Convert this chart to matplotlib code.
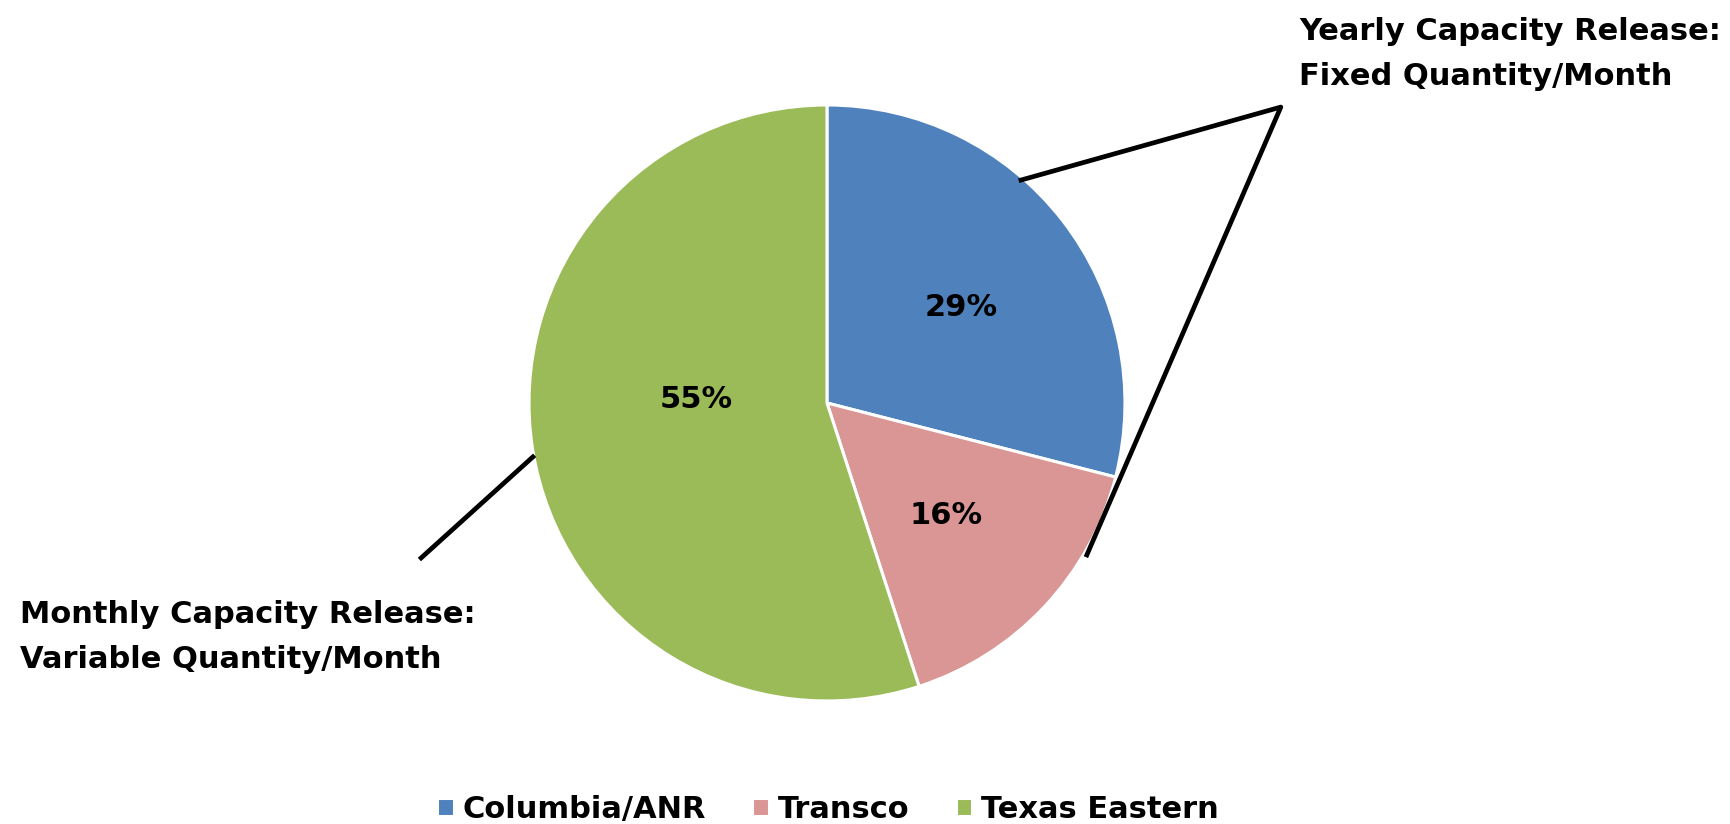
import matplotlib.pyplot as plt
from matplotlib.lines import Line2D

labels = ['Columbia/ANR', 'Transco', 'Texas Eastern']
shares = [29, 16, 55]
colors = ['#4F81BD', '#D99694', '#9BBB59']

yearly_note = 'Yearly Capacity Release:\nFixed Quantity/Month'
monthly_note = 'Monthly Capacity Release:\nVariable Quantity/Month'

plt.rcParams['font.family'] = ['DejaVu Sans']
plt.rcParams['font.weight'] = 'bold'
fs = 22

fig = plt.figure(figsize=(17.31, 8.24), dpi=100)
# pie axes placed so the circle sits where it does in the original
ax = fig.add_axes([0.3056, 0.1493, 0.3443, 0.7233])
ax.axis('off')

wedges, texts, autotexts = ax.pie(
    shares, colors=colors, startangle=90, counterclock=False, radius=1,
    autopct='%1.0f%%', pctdistance=0.55,
    wedgeprops=dict(edgecolor='white', linewidth=2.2),
    textprops=dict(fontsize=fs, fontweight='bold', color='black'))
ax.set_xlim(-1, 1)
ax.set_ylim(-1, 1)
# the big slice's label sits closer to the centre in the original
autotexts[2].set_position((-0.44, 0.01))
autotexts[0].set_position((0.45, 0.32))

# callout brackets
ax.add_line(Line2D([0.651, 1.523, 0.872], [0.748, 0.993, -0.510],
                   color='black', lw=3.4, clip_on=False))
ax.add_line(Line2D([-0.987, -1.362], [-0.181, -0.520],
                   color='black', lw=3.4, clip_on=False))

fig.text(1299 / 1731, 0.934, yearly_note, fontsize=fs, fontweight='bold',
         ha='left', va='center', linespacing=1.7)
fig.text(20 / 1731, 0.227, monthly_note, fontsize=fs, fontweight='bold',
         ha='left', va='center', linespacing=1.7)

fig.legend(wedges, labels, loc='center', bbox_to_anchor=(828 / 1731, 0.018),
           ncol=3, frameon=False, fontsize=fs, handlelength=0.55,
           handleheight=0.55, handletextpad=0.3, columnspacing=1.5)

fig.savefig('out.png', dpi=100)
